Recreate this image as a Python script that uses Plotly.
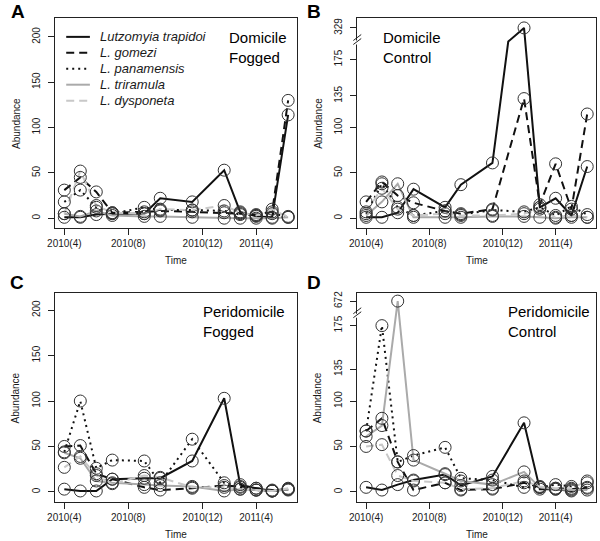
import plotly.graph_objects as go

W, H = 600, 541

# ---------------- data ----------------
MONTHS = [0, 1, 2, 3, 5, 6, 8, 10, 11, 12, 13, 14]
X_TICK_VALS = [0, 4, 8.65, 12]
X_TICK_TEXT = ["2010(4)", "2010(8)", "2010(12)", "2011(4)"]

SPECIES = ["Lutzomyia trapidoi", "L. gomezi", "L. panamensis", "L. triramula", "L. dysponeta"]

# Panel A: Domicile, Fogged
A_TRAPIDOI = [1, 1, 4, 5, 5, 22, 18, 53, 7, 2, 1, 114]
A_GOMEZI = [31, 45, 29, 6, 7, 8, 7, 6, 5, 4, 7, 130]
A_PANAMENSIS = [18, 31, 12, 5, 12, 9, 9, 8, 4, 3, 5, 2]
A_TRIRAMULA = [5, 2, 8, 3, 2, 2, 1, 0, 0, 0, 0, 1]
A_DYSPONETA = [5, 52, 14, 6, 5, 10, 9, 14, 6, 3, 10, 1]

# Panel B: Domicile, Control
B_TRAPIDOI = [1, 1, 6, 32, 12, 37, 61, 329, 12, 22, 3, 57]
B_GOMEZI = [18, 40, 25, 17, 8, 5, 10, 132, 15, 60, 10, 115]
B_PANAMENSIS = [5, 38, 12, 3, 8, 4, 9, 7, 12, 3, 13, 4]
B_TRIRAMULA = [3, 18, 38, 1, 1, 1, 2, 2, 1, 0, 1, 1]
B_DYSPONETA = [7, 33, 10, 3, 5, 3, 3, 5, 10, 1, 3, 1]
B_TRAPIDOI_KINK = (9, 195)   # extra line vertex drawn at the axis break

# Panel C: Peridomicile, Fogged
C_TRAPIDOI = [3, 1, 1, 14, 15, 15, 34, 103, 8, 4, 1, 3]
C_GOMEZI = [50, 51, 20, 14, 5, 2, 4, 7, 6, 4, 2, 3]
C_PANAMENSIS = [44, 100, 26, 35, 34, 10, 58, 10, 5, 2, 1, 2]
C_TRIRAMULA = [43, 37, 12, 10, 8, 7, 6, 1, 3, 2, 1, 3]
C_DYSPONETA = [27, 39, 18, 9, 18, 16, 5, 5, 3, 2, 1, 4]

# Panel D: Peridomicile, Control
D_TRAPIDOI = [5, 2, 8, 13, 19, 7, 17, 76, 3, 3, 1, 4]
D_GOMEZI = [67, 81, 33, 2, 10, 2, 3, 10, 5, 4, 3, 5]
D_PANAMENSIS = [67, 183, 33, 40, 49, 15, 13, 5, 5, 8, 6, 10]
D_TRIRAMULA = [61, 73, 672, 35, 20, 12, 8, 22, 5, 3, 2, 2]
D_DYSPONETA = [50, 52, 18, 12, 10, 3, 4, 12, 6, 4, 4, 12]

# y tick labels and where they sit on each panel's (broken) axis
Y_TICKS_PLAIN = [0, 50, 100, 150, 200]
Y_TICKS_B = [0, 50, 100, 135, 175, 329]
Y_TICKS_D = [0, 50, 100, 135, 175, 672]
Y_TICKPOS_D = [0, 50, 100, 135, 183, 672]

PANEL_LETTERS = ["A", "B", "C", "D"]
PANEL_TITLES = ["Domicile<br>Fogged", "Domicile<br>Control",
                "Peridomicile<br>Fogged", "Peridomicile<br>Control"]

# ---------------- styling / layout ----------------
FONT = "Arial, 'Liberation Sans', sans-serif"
TXT = "#1a1a1a"
STYLES = [
    dict(color="#111111", dash="solid", width=2),
    dict(color="#111111", dash="8px,5px", width=2),
    dict(color="#111111", dash="2px,4px", width=2),
    dict(color="#aaaaaa", dash="solid", width=2),
    dict(color="#c8c8c8", dash="8px,5px", width=2),
]

GAP_FLOOR = 200      # values above are shown in the upper (broken) segment
GAP_TOP_POS = 210    # display position of the top tick above the break


def disp(v, top):
    if v <= GAP_FLOOR:
        return v
    return GAP_TOP_POS + (v - top) * 0.05


# panel boxes in pixels (x0, x1, y0, y1)
BOXES = [(48, 293, 16, 227), (354, 596, 16, 227),
         (48, 293, 292, 502), (354, 596, 292, 502)]
YRANGES = [[-11, 221], [-11, 221], [-11.3, 219], [-11.3, 219]]
XRANGE = [-0.56, 14.56]

PANELS = [
    [A_TRAPIDOI, A_GOMEZI, A_PANAMENSIS, A_TRIRAMULA, A_DYSPONETA],
    [B_TRAPIDOI, B_GOMEZI, B_PANAMENSIS, B_TRIRAMULA, B_DYSPONETA],
    [C_TRAPIDOI, C_GOMEZI, C_PANAMENSIS, C_TRIRAMULA, C_DYSPONETA],
    [D_TRAPIDOI, D_GOMEZI, D_PANAMENSIS, D_TRIRAMULA, D_DYSPONETA],
]
YTICKS = [Y_TICKS_PLAIN, Y_TICKS_B, Y_TICKS_PLAIN, Y_TICKS_D]
YTICKPOS = [Y_TICKS_PLAIN, Y_TICKS_B, Y_TICKS_PLAIN, Y_TICKPOS_D]

# legend geometry (pixels)
LEG_LINE_X = (59, 83)
LEG_TEXT_X = 91
LEG_ROW_Y0 = 35
LEG_ROW_DY = 16

LETTER_POS = [(10, 9), (310, 9), (9, 281), (310, 281)]
TITLE_POS = [(222, 25), (378, 25), (196, 300), (505, 300)]


def px_x(x):
    return x / W


def px_y(y):
    return 1 - y / H


fig = go.Figure()
layout = dict(
    width=W, height=H, margin=dict(l=0, r=0, t=0, b=0),
    paper_bgcolor="white", plot_bgcolor="white",
    font=dict(family=FONT, color=TXT, size=10),
    showlegend=False,
)
annotations = []
shapes = []

for p in range(4):
    xa = "x" if p == 0 else f"x{p + 1}"
    ya = "y" if p == 0 else f"y{p + 1}"
    x0, x1, y0, y1 = BOXES[p]
    ticks = YTICKS[p]
    top = ticks[-1]
    tickpos = [disp(t, top) for t in YTICKPOS[p]]

    for i, vals in enumerate(PANELS[p]):
        st = STYLES[i]
        yv = [disp(v, top) for v in vals]
        xl, yl = list(MONTHS), list(yv)
        if p == 1 and i == 0:
            k = xl.index(10)
            xl.insert(k, B_TRAPIDOI_KINK[0])
            yl.insert(k, B_TRAPIDOI_KINK[1])
        fig.add_trace(go.Scatter(
            x=xl, y=yl, mode="lines", xaxis=xa, yaxis=ya,
            line=dict(color=st["color"], dash=st["dash"], width=st["width"]),
            name=SPECIES[i], hoverinfo="skip"))
    for i, vals in enumerate(PANELS[p]):
        yv = [disp(v, top) for v in vals]
        fig.add_trace(go.Scatter(
            x=MONTHS, y=yv, mode="markers", xaxis=xa, yaxis=ya,
            marker=dict(symbol="circle-open", size=12, color="#333333",
                        line=dict(width=1)),
            name=SPECIES[i]))

    axis_common = dict(showline=True, mirror=True, linecolor="#222222", linewidth=1,
                       ticks="outside", ticklen=6, tickwidth=1, tickcolor="#222222",
                       showgrid=False, zeroline=False,
                       tickfont=dict(size=10, family=FONT, color=TXT))
    kx = "xaxis" if p == 0 else f"xaxis{p + 1}"
    ky = "yaxis" if p == 0 else f"yaxis{p + 1}"
    layout[kx] = dict(axis_common, domain=[px_x(x0), px_x(x1)], range=XRANGE,
                      tickvals=X_TICK_VALS, ticktext=X_TICK_TEXT, anchor=ya)
    layout[ky] = dict(axis_common, domain=[px_y(y1), px_y(y0)], range=YRANGES[p],
                      tickvals=tickpos, ticktext=[str(t) for t in ticks],
                      tickangle=-90, anchor=xa, ticklabelstandoff=4)

    # axis titles
    annotations.append(dict(text="Time", x=px_x((x0 + x1) / 2), y=px_y(y1 + 32),
                            xref="paper", yref="paper", showarrow=False,
                            xanchor="center", yanchor="middle",
                            font=dict(size=10, family=FONT, color=TXT)))
    annotations.append(dict(text="Abundance", x=px_x(x0 - 40), y=px_y((y0 + y1) / 2),
                            xref="paper", yref="paper", showarrow=False, textangle=-90,
                            xanchor="center", yanchor="middle",
                            font=dict(size=10, family=FONT, color=TXT)))
    # panel letter
    lx, ly = LETTER_POS[p]
    annotations.append(dict(text=f"<b>{PANEL_LETTERS[p]}</b>", x=px_x(lx),
                            y=px_y(ly), xref="paper", yref="paper", showarrow=False,
                            xanchor="center", yanchor="middle", height=16,
                            valign="middle", borderpad=0,
                            font=dict(size=19, family=FONT, color="#000")))

    # axis break marks on broken panels
    if top > 200:
        yr = YRANGES[p]

        def ypix(v):
            return y1 - (v - yr[0]) / (yr[1] - yr[0]) * (y1 - y0)
        ya_ = ypix(195)
        shapes.append(dict(type="rect", xref="paper", yref="paper",
                           x0=px_x(x0 - 2), x1=px_x(x0 + 2), y0=px_y(ya_ - 1), y1=px_y(ya_ + 3),
                           fillcolor="white", line=dict(width=0), layer="above"))
        for off in (0, 4):
            shapes.append(dict(type="line", xref="paper", yref="paper",
                               x0=px_x(x0 - 4), x1=px_x(x0 + 4),
                               y0=px_y(ya_ + 3 - off), y1=px_y(ya_ - 3 - off),
                               line=dict(color="#222222", width=1), layer="above"))

# legend (drawn in panel A)
for i, sp in enumerate(SPECIES):
    st = STYLES[i]
    ry = LEG_ROW_Y0 + i * LEG_ROW_DY
    shapes.append(dict(type="line", xref="paper", yref="paper",
                       x0=px_x(LEG_LINE_X[0]), x1=px_x(LEG_LINE_X[1]),
                       y0=px_y(ry), y1=px_y(ry),
                       line=dict(color=st["color"], dash=st["dash"], width=st["width"])))
    annotations.append(dict(text=f"<i>{sp}</i>", x=px_x(LEG_TEXT_X), y=px_y(ry),
                            xref="paper", yref="paper", showarrow=False,
                            xanchor="left", yanchor="middle",
                            font=dict(size=13, family=FONT, color=TXT)))

# treatment labels
for p in range(4):
    tx, ty = TITLE_POS[p]
    annotations.append(dict(text=PANEL_TITLES[p], x=px_x(tx), y=px_y(ty),
                            xref="paper", yref="paper", showarrow=False,
                            xanchor="left", yanchor="top", align="left",
                            font=dict(size=15, family=FONT, color="#000")))

layout["annotations"] = annotations
layout["shapes"] = shapes
fig.update_layout(**layout)
fig.write_html("out.html", config={"displayModeBar": False},
               post_script="document.body.style.margin='0';")
